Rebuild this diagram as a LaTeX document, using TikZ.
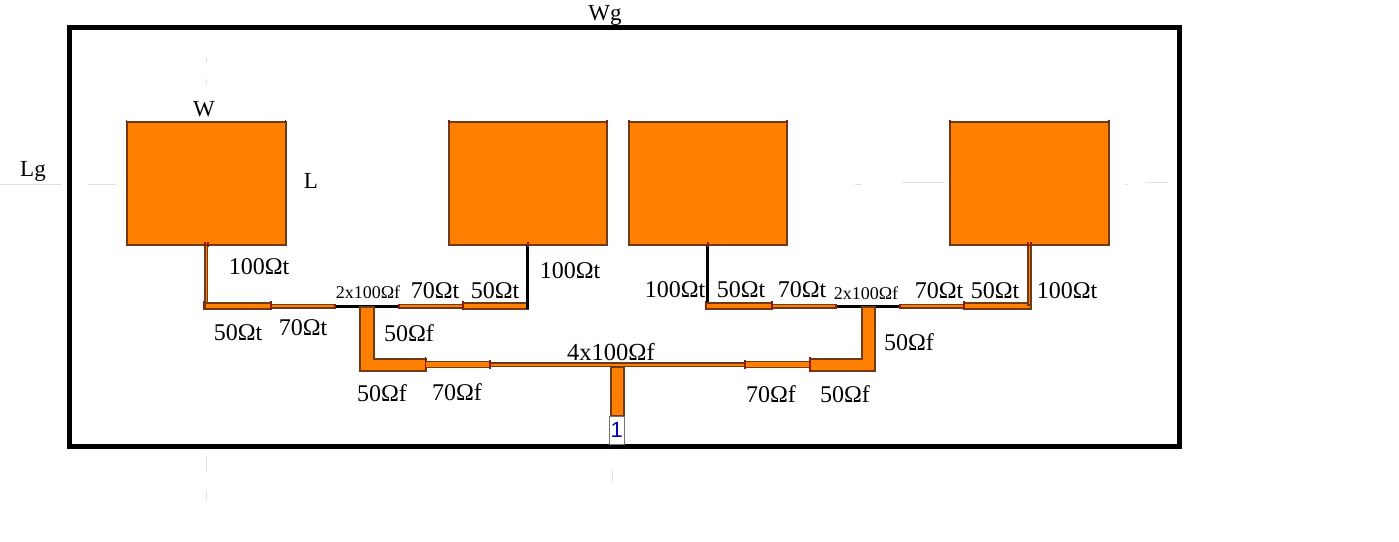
\documentclass[tikz,border=0pt]{standalone}
\usepackage{fontspec}
\setmainfont{Liberation Serif}
\newfontfamily\portfont{Liberation Sans}
\definecolor{patchorange}{HTML}{FF8000}
\definecolor{trackedge}{HTML}{6E3A18}
\definecolor{tickred}{HTML}{8A1C10}
\definecolor{faintmark}{HTML}{E8DCDC}
\tikzset{
  every node/.style={outer sep=0pt},
  metal/.style={fill=patchorange,draw=trackedge,line width=2pt,line join=miter},
  thinmetal/.style={fill=patchorange,draw=trackedge,line width=1.3pt},
  blackline/.style={draw=black,line width=2.8pt},
  tick/.style={draw=tickred,line width=1.4pt},
  faint/.style={draw=faintmark,line width=0.8pt},
  lab/.style={font=\fontsize{24}{26}\selectfont,inner sep=0pt,text=black},
  smalllab/.style={font=\fontsize{18}{20}\selectfont,inner sep=0pt,text=black},
  biglab/.style={font=\fontsize{24.5}{26}\selectfont,inner sep=0pt,text=black},
  dimlab/.style={font=\fontsize{23}{25}\selectfont,inner sep=0pt,text=black}
}
\begin{document}
\begin{tikzpicture}[x=1pt,y=-1pt]
\useasboundingbox (0,0) rectangle (1399,541);
% ground
\node[draw=black,line width=5pt,fill=white,minimum width=1110pt,minimum height=419pt,inner sep=0pt,anchor=north west] (ground) at (69.5,27.5) {};
% faint construction marks
\draw[faint] (0,184) -- (62,184) (88,184) -- (116,184) (855,184) -- (862,184) (902,182) -- (945,182) (1125,184) -- (1128,184) (1146,182) -- (1168,182);
\draw[faint] (206,57) -- (206,63) (206,79) -- (206,84) (206,455) -- (206,472) (206,490) -- (206,500) (612,470) -- (612,482);
% patches
\node[metal,minimum width=159pt,minimum height=123pt,inner sep=0pt,anchor=north west] (p1) at (126.5,121.5) {};
\node[metal,minimum width=158pt,minimum height=123pt,inner sep=0pt,anchor=north west] (p2) at (449,121.5) {};
\node[metal,minimum width=158pt,minimum height=123pt,inner sep=0pt,anchor=north west] (p3) at (629,121.5) {};
\node[metal,minimum width=159pt,minimum height=123pt,inner sep=0pt,anchor=north west] (p4) at (950,121.5) {};
% left group
\draw[thinmetal] (205,245) rectangle (207.8,304);
\draw[thinmetal] (205,303) rectangle (271,309);
\draw[thinmetal] (271,304.5) rectangle (335,308);
\draw[blackline] (335,306.2) -- (399,306.2);
\draw[thinmetal] (399,304.5) rectangle (463,308);
\draw[thinmetal] (463,303) rectangle (528.5,309);
\draw[blackline] (527.8,245) -- (527.8,309);
% right group
\draw[blackline] (707.8,245) -- (707.8,304);
\draw[thinmetal] (706.5,303) rectangle (772,309);
\draw[thinmetal] (772,304.5) rectangle (836,308);
\draw[blackline] (836,306.2) -- (900,306.2);
\draw[thinmetal] (900,304.5) rectangle (964,308);
\draw[thinmetal] (964,303) rectangle (1031,309);
\draw[thinmetal] (1028,245) rectangle (1031,305);
% L sections
\draw[metal] (360,306.5) -- (374,306.5) -- (374,358.5) -- (425.7,358.5) -- (425.7,370.5) -- (360,370.5) -- cycle;
\draw[metal] (875,306.5) -- (861.7,306.5) -- (861.7,358.5) -- (810,358.5) -- (810,370.5) -- (875,370.5) -- cycle;
% lower feed
\draw[thinmetal] (425.7,361.7) rectangle (490,367.7);
\draw[thinmetal] (745,361.7) rectangle (810,367.7);
\draw[thinmetal] (490,363) rectangle (745,366.6);
% stem and port
\draw[metal] (611,366.5) rectangle (624,416);
\node[draw=black!55,fill=white,line width=1pt,minimum width=14.5pt,minimum height=28pt,inner sep=0pt,anchor=north west,font=\portfont\fontsize{22}{23}\selectfont,text=blue!75!black] (port) at (609.5,416) {1};
% junction ticks
\draw[tick]
  (205,242) -- (205,247) (207.8,242) -- (207.8,247)
  (203.5,301) -- (203.5,310)
  (271,301) -- (271,310) (335,304) -- (335,309)
  (399,304) -- (399,309) (463,301) -- (463,310)
  (527.8,242) -- (527.8,247)
  (425.7,356.5) -- (425.7,372) (490,360) -- (490,369)
  (745,360) -- (745,369) (810,356.5) -- (810,372)
  (707.8,242) -- (707.8,247) (705.5,301) -- (705.5,310)
  (772,301) -- (772,310) (836,304) -- (836,309)
  (900,304) -- (900,309) (964,301) -- (964,310)
  (1028,242) -- (1028,247) (1031,242) -- (1031,247)
  (126.5,120) -- (126.5,123) (285.5,120) -- (285.5,123)
  (449,120) -- (449,123) (607,120) -- (607,123)
  (629,120) -- (629,123) (787,120) -- (787,123)
  (950,120) -- (950,123) (1109,120) -- (1109,123);
% labels
\node[dimlab] (wg) at (605,15) {Wg};
\node[dimlab] (lg) at (33,171) {Lg};
\node[dimlab] (w) at (204,109) {W};
\node[dimlab] (l) at (311,181) {L};
\node[lab] (a1) at (259,267) {100\char"03A9t};
\node[lab] (a2) at (238,333) {50\char"03A9t};
\node[lab] (a3) at (303,328) {70\char"03A9t};
\node[smalllab] (a4) at (368,292) {2x100\char"03A9f};
\node[lab] (a5) at (435,291) {70\char"03A9t};
\node[lab] (a6) at (495,291) {50\char"03A9t};
\node[lab] (a7) at (570,271) {100\char"03A9t};
\node[lab] (a8) at (409,333) {50\char"03A9f};
\node[lab] (a9) at (382,393) {50\char"03A9f};
\node[lab] (a10) at (457,392) {70\char"03A9f};
\node[biglab] (a11) at (611,352) {4x100\char"03A9f};
\node[lab] (a12) at (771,394) {70\char"03A9f};
\node[lab] (a13) at (845,394) {50\char"03A9f};
\node[lab] (a14) at (909,342) {50\char"03A9f};
\node[lab] (a15) at (675,290) {100\char"03A9t};
\node[lab] (a16) at (741,290) {50\char"03A9t};
\node[lab] (a17) at (802,290) {70\char"03A9t};
\node[smalllab] (a18) at (866,293) {2x100\char"03A9f};
\node[lab] (a19) at (939,291) {70\char"03A9t};
\node[lab] (a20) at (995,291) {50\char"03A9t};
\node[lab] (a21) at (1067,291) {100\char"03A9t};
\end{tikzpicture}
\end{document}
